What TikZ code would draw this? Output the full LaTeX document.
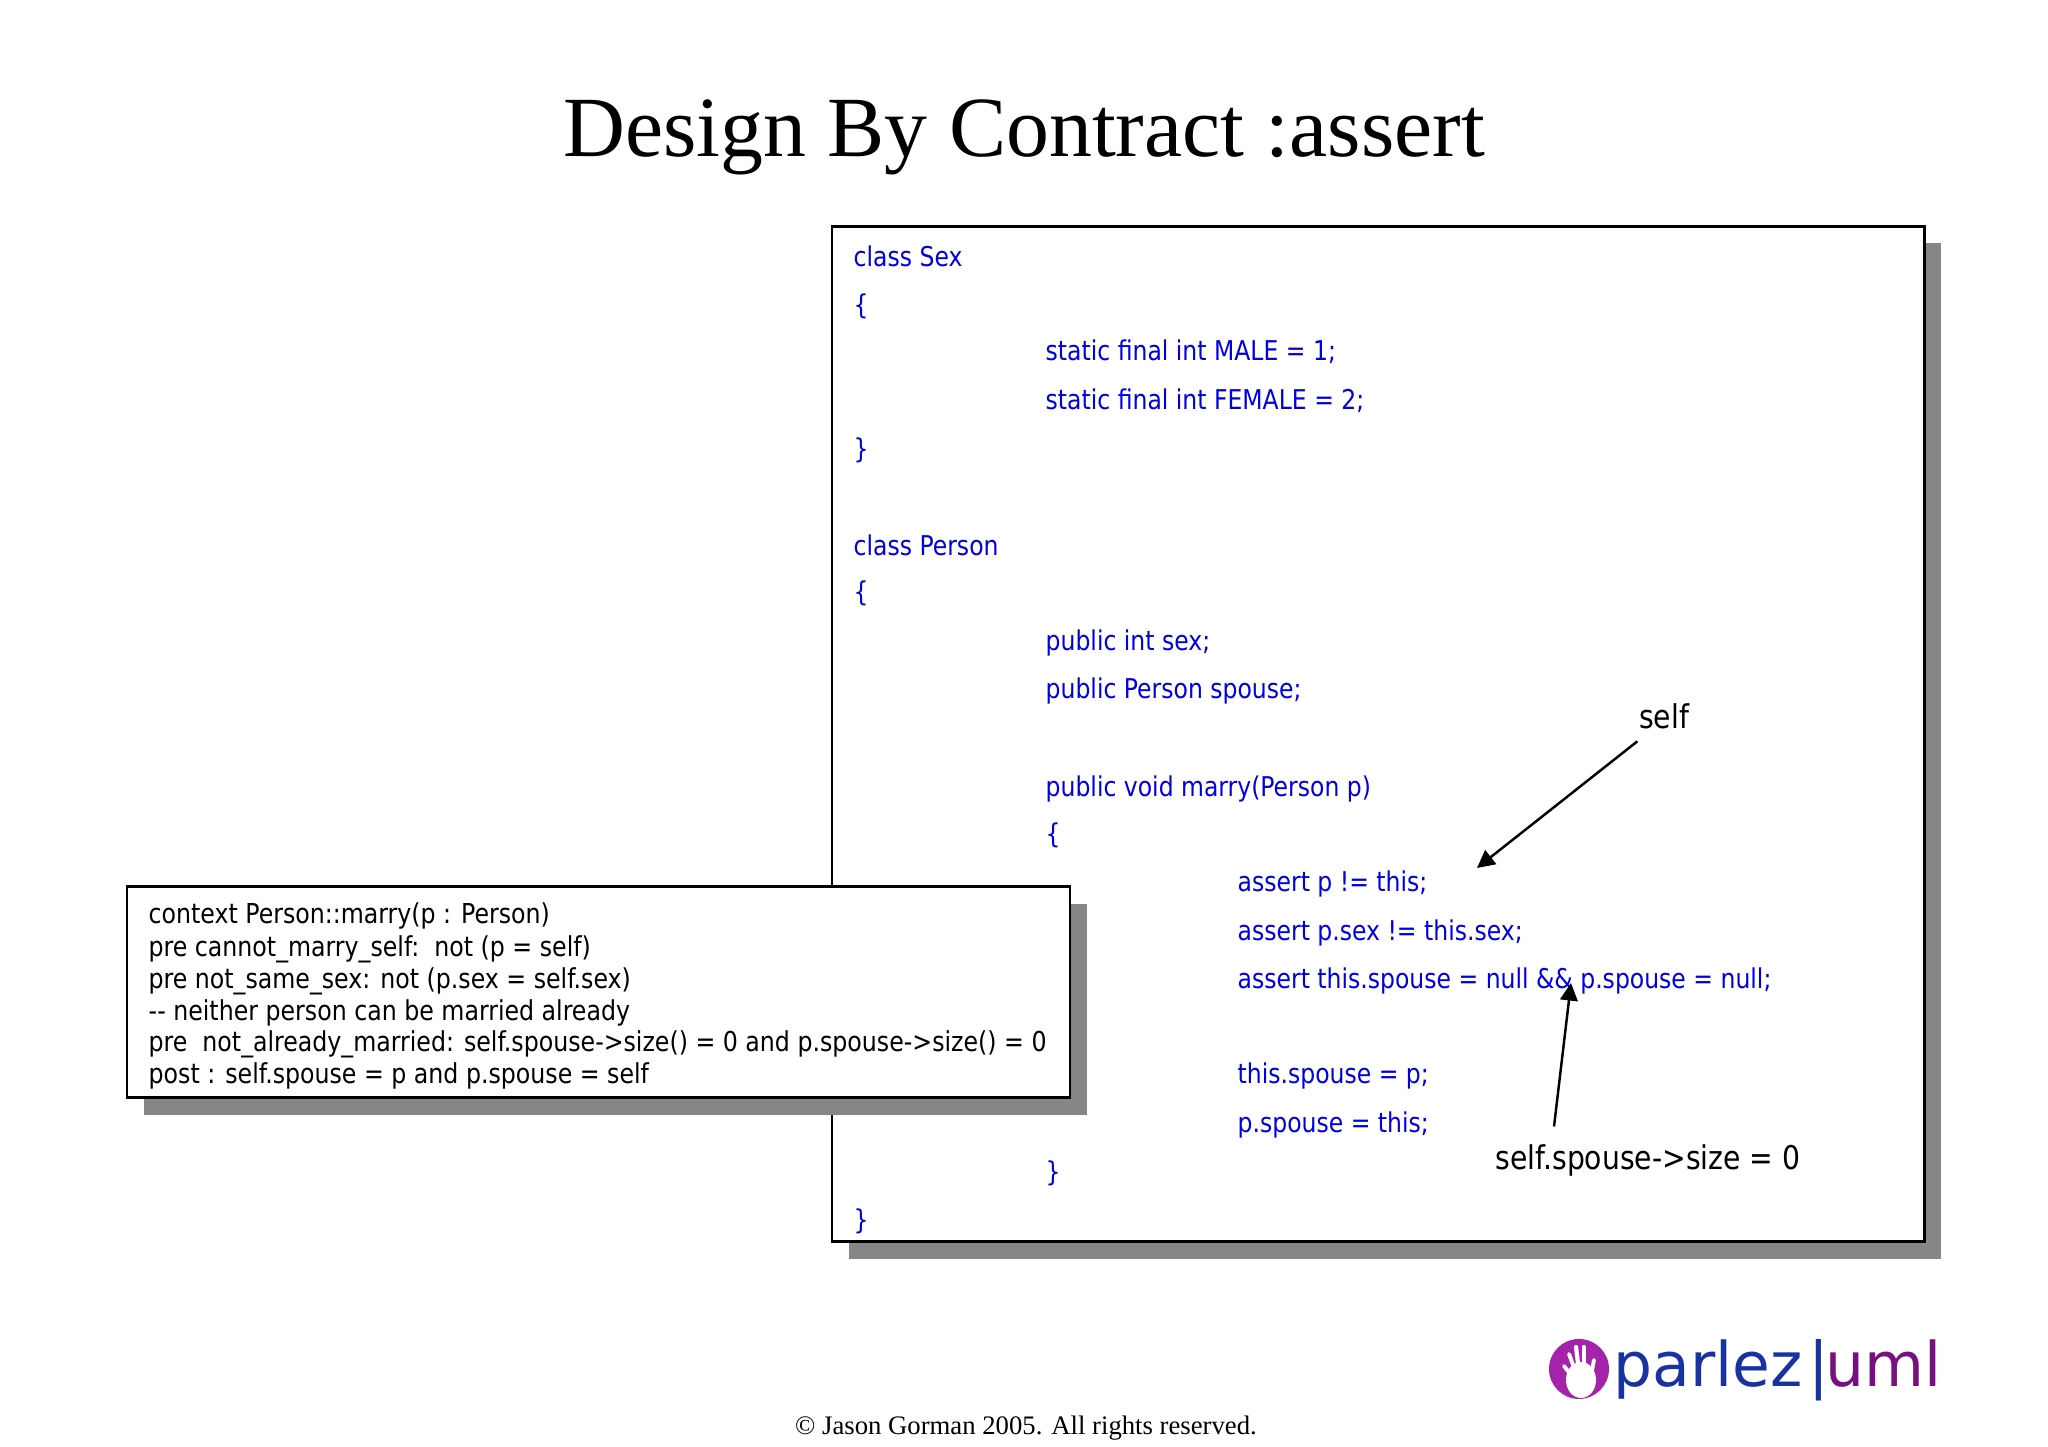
\documentclass[tikz,border=0pt]{standalone}
\usepackage{fontspec}
\setmainfont{Liberation Serif}
\newfontfamily\codefont[FakeStretch=0.96]{DejaVu Sans Condensed}
\newfontfamily\logofont{DejaVu Sans}
\definecolor{codeblue}{RGB}{0,0,225}
\definecolor{shadowgrey}{RGB}{134,134,134}
\definecolor{logoblue}{RGB}{24,50,160}
\definecolor{logopurple}{RGB}{120,16,128}
\definecolor{logodisc}{RGB}{165,35,170}
\tikzset{
  panel/.style={draw=black, line width=0.85pt, fill=white},
  drop/.style={fill=shadowgrey},
  code/.style={anchor=base west, inner sep=0pt, text=codeblue, font=\codefont\fontsize{7.75}{9}\selectfont},
  ocl/.style={anchor=base west, inner sep=0pt, text=black, font=\codefont\fontsize{7.8}{9}\selectfont},
  note/.style={inner sep=0pt, text=black, font=\codefont\fontsize{9.3}{11}\selectfont},
  pointer/.style={-{Triangle[length=5pt,width=5pt]}, line width=0.7pt},
  logotext/.style={anchor=base west, inner sep=0pt, font=\logofont\fontsize{17.5}{20}\selectfont},
}
\usetikzlibrary{arrows.meta}
\begin{document}
\begin{tikzpicture}
\useasboundingbox (0,0) rectangle (20.48,14.47);

\node[inner sep=0pt, font=\fontsize{24.4}{30}\selectfont] (title) at (10.24,13.10) {Design By Contract :assert};

% code panel
\fill[drop] (8.49,1.88) rectangle (19.41,12.04);
\draw[panel] (8.32,2.05) rectangle (19.24,12.20);

\node[code] (sexclass) at (8.53,11.80) {class Sex};
\node[code] (sexopen) at (8.53,11.32) {\{};
\node[code] (male) at (10.45,10.86) {static final int MALE = 1;};
\node[code] (female) at (10.45,10.37) {static final int FEMALE = 2;};
\node[code] (sexclose) at (8.53,9.88) {\}};

\node[code] (personclass) at (8.53,8.91) {class Person};
\node[code] (personopen) at (8.53,8.45) {\{};
\node[code] (sexfield) at (10.45,7.96) {public int sex;};
\node[code] (spousefield) at (10.45,7.48) {public Person spouse;};
\node[code] (marry) at (10.45,6.5) {public void marry(Person p)};
\node[code] (marryopen) at (10.45,6.03) {\{};
\node[code] (assertself) at (12.37,5.55) {assert p != this;};
\node[code] (assertsex) at (12.37,5.06) {assert p.sex != this.sex;};
\node[code] (assertnull) at (12.37,4.58) {assert this.spouse = null \&\& p.spouse = null;};
\node[code] (setthis) at (12.37,3.63) {this.spouse = p;};
\node[code] (setp) at (12.37,3.14) {p.spouse = this;};
\node[code] (marryclose) at (10.45,2.65) {\}};
\node[code] (personclose) at (8.53,2.17) {\}};

% ocl panel
\fill[drop] (1.44,3.32) rectangle (10.87,5.43);
\draw[panel] (1.27,3.49) rectangle (10.7,5.6);

\node[ocl] (context) at (1.48,5.23) {context Person::marry(p : Person)};
\node[ocl] (preself) at (1.48,4.90) {pre cannot\_marry\_self:\ \ not (p = self)};
\node[ocl] (presex) at (1.48,4.58) {pre not\_same\_sex: not (p.sex = self.sex)};
\node[ocl] (neither) at (1.48,4.26) {-{}- neither person can be married already};
\node[ocl] (premarried) at (1.48,3.95) {pre\ \ not\_already\_married: self.spouse->size() = 0 and p.spouse->size() = 0};
\node[ocl] (postcond) at (1.48,3.63) {post : self.spouse = p and p.spouse = self};

% callouts
\node[note] (selfnote) at (16.64,7.31) {self};
\node[note] (sizenote) at (16.48,2.86) {self.spouse->size = 0};
\coordinate (selfhead) at (14.77,5.79);
\coordinate (sizehead) at (15.71,4.64);
\draw[pointer] ([shift={(-0.01,-0.12)}]selfnote.south west) -- (selfhead);
\draw[pointer] ([shift={(0.59,0.18)}]sizenote.north west) -- (sizehead);

% logo
\fill[logodisc] (15.79,0.78) circle (0.3);
\fill[white] (15.81,0.67) ellipse (0.15 and 0.18);
\draw[white, line width=1.1pt, line cap=round] (15.64,0.81) -- (15.74,0.68);
\draw[white, line width=1.1pt, line cap=round] (15.69,0.93) -- (15.76,0.74);
\draw[white, line width=1.2pt, line cap=round] (15.76,1.0) -- (15.79,0.76);
\draw[white, line width=1.2pt, line cap=round] (15.84,1.0) -- (15.84,0.76);
\draw[white, line width=1.1pt, line cap=round] (15.94,0.87) -- (15.9,0.66);
\node[logotext, text=logoblue] (parlez) at (16.13,0.6) {parlez};
\node[logotext, text=logoblue] (divider) at (18.08,0.6) {|};
\node[logotext, text=logopurple] (uml) at (18.25,0.6) {uml};

\node[inner sep=0pt, font=\fontsize{7.6}{9}\selectfont] (copyright) at (10.26,0.19) {© Jason Gorman 2005. All rights reserved.};

\end{tikzpicture}
\end{document}
